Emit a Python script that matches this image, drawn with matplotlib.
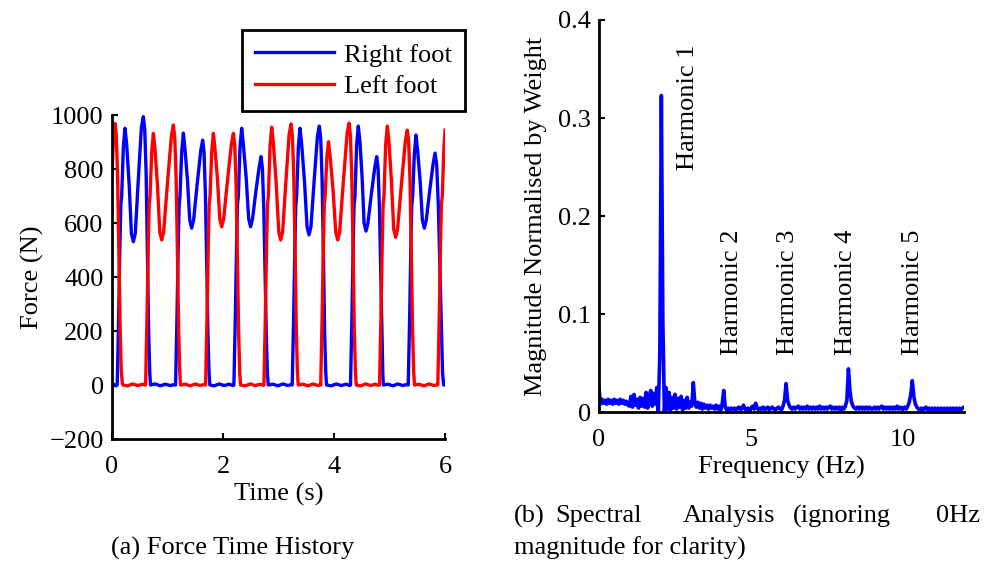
import matplotlib
matplotlib.use("Agg")
import matplotlib.pyplot as plt
from matplotlib.ticker import FormatStrFormatter
import numpy as np

plt.rcParams['font.family'] = ['Liberation Serif', 'DejaVu Serif']
plt.rcParams['font.size'] = 19

# ---- force time history ----
right_t = [0.00, 0.03, 0.06,
           0.094, 0.119, 0.144, 0.159, 0.174, 0.204, 0.234, 0.264, 0.309, 0.349, 0.384, 0.419, 0.474, 0.529, 0.564, 0.589, 0.614, 0.639, 0.659, 0.679, 0.694,
           0.78, 0.87, 0.96, 1.05, 1.12,
           1.145, 1.17, 1.195, 1.21, 1.225, 1.255, 1.285, 1.315, 1.36, 1.40, 1.435, 1.47, 1.534, 1.598, 1.633, 1.658, 1.683, 1.708, 1.728, 1.748, 1.763,
           1.84, 1.93, 2.02, 2.11, 2.18,
           2.196, 2.221, 2.246, 2.261, 2.276, 2.306, 2.336, 2.366, 2.417, 2.462, 2.497, 2.532, 2.591, 2.65, 2.685, 2.71, 2.735, 2.76, 2.78, 2.80, 2.815,
           2.90, 2.99, 3.08, 3.17, 3.23,
           3.247, 3.272, 3.297, 3.312, 3.327, 3.357, 3.387, 3.417, 3.468, 3.514, 3.549, 3.584, 3.642, 3.70, 3.735, 3.76, 3.785, 3.81, 3.83, 3.85, 3.865,
           3.95, 4.04, 4.13, 4.22, 4.28,
           4.297, 4.322, 4.347, 4.362, 4.377, 4.407, 4.437, 4.467, 4.507, 4.541, 4.576, 4.611, 4.673, 4.734, 4.769, 4.794, 4.819, 4.844, 4.864, 4.879, 4.889,
           4.97, 5.06, 5.15, 5.24, 5.31,
           5.337, 5.362, 5.387, 5.402, 5.417, 5.447, 5.477, 5.507, 5.552, 5.592, 5.627, 5.662, 5.724, 5.785, 5.82, 5.85, 5.88, 5.91, 5.935, 5.955, 5.975, 6.0]
right_f = [0, 3, -3,
           0, 250, 540, 670, 700, 881, 951, 891, 741, 561, 531, 561, 762, 954, 994, 949, 790, 480, 210, 50, 0,
           4, -3, 3, -2, 2,
           0, 250, 540, 670, 700, 863, 933, 873, 757, 611, 581, 611, 744, 867, 907, 862, 700, 430, 190, 45, 0,
           -3, 4, -2, 3, -2,
           0, 250, 540, 670, 700, 881, 951, 891, 768, 616, 586, 616, 716, 806, 846, 801, 650, 400, 180, 40, 0,
           3, -3, 4, -2, 2,
           0, 250, 540, 670, 700, 881, 951, 891, 753, 586, 556, 586, 757, 919, 959, 914, 760, 470, 200, 50, 0,
           -3, 4, -2, 3, -2,
           0, 250, 540, 670, 700, 889, 959, 899, 765, 600, 570, 600, 708, 806, 846, 801, 650, 400, 180, 40, 0,
           3, -3, 4, -2, 2,
           0, 250, 540, 670, 700, 856, 926, 866, 754, 611, 581, 611, 720, 819, 859, 814, 660, 410, 190, 45, 0, 0]

left_t = [0.0, 0.02, 0.04, 0.054, 0.075, 0.10, 0.125, 0.145, 0.165, 0.185, 0.20,
          0.28, 0.37, 0.46, 0.55,
          0.605, 0.63, 0.655, 0.67, 0.685, 0.715, 0.745, 0.775, 0.82, 0.86, 0.895, 0.93, 1.0, 1.07, 1.105, 1.13, 1.155, 1.18, 1.20, 1.22, 1.235,
          1.32, 1.41, 1.50, 1.59, 1.65,
          1.686, 1.711, 1.736, 1.751, 1.766, 1.796, 1.826, 1.856, 1.901, 1.941, 1.976, 2.011, 2.081, 2.151, 2.186, 2.211, 2.236, 2.261, 2.281, 2.301, 2.316,
          2.40, 2.49, 2.58, 2.67, 2.72,
          2.737, 2.762, 2.787, 2.802, 2.817, 2.847, 2.877, 2.907, 2.958, 3.004, 3.039, 3.074, 3.132, 3.19, 3.225, 3.25, 3.275, 3.30, 3.32, 3.34, 3.355,
          3.44, 3.53, 3.62, 3.71, 3.75,
          3.76, 3.785, 3.81, 3.825, 3.84, 3.87, 3.90, 3.93, 3.983, 4.031, 4.066, 4.101, 4.168, 4.235, 4.27, 4.295, 4.32, 4.345, 4.365, 4.385, 4.40,
          4.48, 4.57, 4.66, 4.74, 4.79,
          4.82, 4.845, 4.87, 4.885, 4.90, 4.93, 4.96, 4.99, 5.035, 5.075, 5.11, 5.145, 5.215, 5.285, 5.32, 5.345, 5.37, 5.395, 5.415, 5.435, 5.45,
          5.53, 5.62, 5.71, 5.80, 5.85,
          5.87, 5.895, 5.92, 5.935, 5.95, 5.98, 6.0]
left_f = [775, 890, 950, 969, 930, 780, 480, 220, 60, 5, 0,
          -3, 4, -2, 3,
          0, 250, 540, 670, 700, 862, 932, 872, 735, 567, 537, 567, 750, 923, 963, 918, 765, 470, 210, 50, 0,
          3, -3, 4, -2, 2,
          0, 250, 540, 670, 700, 862, 932, 872, 759, 616, 586, 616, 759, 892, 932, 887, 740, 450, 200, 45, 0,
          -3, 4, -2, 3, -1,
          0, 250, 540, 670, 700, 885, 955, 895, 746, 567, 537, 567, 752, 927, 967, 922, 770, 475, 210, 50, 0,
          3, -3, 4, -2, 1,
          0, 250, 540, 670, 700, 841, 901, 846, 719, 567, 537, 567, 754, 930, 970, 925, 770, 475, 210, 50, 0,
          -3, 4, -2, 3, -1,
          0, 250, 540, 670, 700, 889, 959, 899, 753, 577, 547, 577, 746, 904, 944, 899, 750, 460, 205, 48, 0,
          3, -3, 4, -2, 1,
          0, 250, 540, 670, 700, 880, 944]

# ---- spectrum, magnitudes on a 0.05 Hz grid from 0 to 12 Hz ----
freq = np.linspace(0, 12, 241)
mag = [
    0.024, 0.008, 0.013, 0.009, 0.012, 0.008, 0.013, 0.009, 0.012, 0.008, 0.013, 0.009, 0.012, 0.008, 0.013, 0.009, 0.012, 0.008, 0.011, 0.007,
    0.006, 0.016, 0.005, 0.018, 0.007, 0.013, 0.004, 0.015, 0.006, 0.014, 0.005, 0.020, 0.004, 0.016, 0.022, 0.006, 0.019, 0.008, 0.025, 0.001,
    0.060, 0.323, 0.090, 0.000, 0.025, 0.003, 0.020, 0.002, 0.015, 0.004, 0.018, 0.003, 0.014, 0.005, 0.016, 0.002, 0.012, 0.004, 0.015, 0.004,
    0.010, 0.006, 0.030, 0.010, 0.005, 0.010, 0.004, 0.009, 0.003, 0.008, 0.004, 0.007, 0.003, 0.007, 0.004, 0.006, 0.003, 0.007, 0.003, 0.006,
    0.002, 0.008, 0.022, 0.005, 0.002, 0.004, 0.002, 0.004, 0.003, 0.004, 0.002, 0.004, 0.005, 0.002, 0.004, 0.007, 0.003, 0.002, 0.004, 0.002,
    0.004, 0.006, 0.003, 0.009, 0.004, 0.002, 0.004, 0.003, 0.005, 0.002, 0.004, 0.005, 0.002, 0.004, 0.005, 0.003, 0.002, 0.004, 0.005, 0.003,
    0.002, 0.006, 0.012, 0.029, 0.012, 0.007, 0.004, 0.003, 0.005, 0.003, 0.005, 0.006, 0.003, 0.005, 0.003, 0.005, 0.003, 0.006, 0.003, 0.005,
    0.003, 0.005, 0.003, 0.005, 0.003, 0.006, 0.003, 0.005, 0.003, 0.005, 0.003, 0.005, 0.006, 0.003, 0.005, 0.003, 0.005, 0.003, 0.005, 0.002,
    0.005, 0.003, 0.006, 0.012, 0.044, 0.022, 0.010, 0.006, 0.004, 0.003, 0.005, 0.003, 0.005, 0.003, 0.005, 0.003, 0.005, 0.003, 0.005, 0.003,
    0.003, 0.005, 0.003, 0.005, 0.003, 0.005, 0.006, 0.003, 0.005, 0.003, 0.005, 0.003, 0.005, 0.003, 0.005, 0.003, 0.006, 0.003, 0.005, 0.003,
    0.003, 0.005, 0.003, 0.006, 0.010, 0.018, 0.032, 0.016, 0.008, 0.005, 0.003, 0.002, 0.004, 0.002, 0.004, 0.005, 0.002, 0.004, 0.002, 0.004,
    0.002, 0.004, 0.002, 0.004, 0.002, 0.004, 0.002, 0.004, 0.002, 0.004, 0.002, 0.004, 0.002, 0.004, 0.002, 0.004, 0.002, 0.004, 0.002, 0.004,
    0.005]

harm_labels = ['Harmonic 1', 'Harmonic 2', 'Harmonic 3', 'Harmonic 4', 'Harmonic 5']
harm_x = [2.93, 4.37, 6.22, 8.12, 10.33]
harm_y = [0.247, 0.058, 0.058, 0.058, 0.058]

fig = plt.figure(figsize=(9.87, 5.68), dpi=100)

ax1 = fig.add_axes([0.1135, 0.2271, 0.3374, 0.5704])
ax1.plot(right_t, right_f, color='blue', lw=2.4, label='Right foot')
ax1.plot(left_t, left_f, color='red', lw=2.4, label='Left foot')
ax1.set_xlim(0, 6)
ax1.set_ylim(-200, 1000)
ax1.set_xticks([0, 2, 4, 6])
ax1.set_yticks(range(-200, 1001, 200))
ax1.set_xlabel('Time (s)', labelpad=4)
ax1.set_ylabel('Force (N)', labelpad=4)
ax1.legend(loc='upper left', bbox_to_anchor=(0.2452, 0.9472), bbox_transform=fig.transFigure,
           borderaxespad=0, fancybox=False, edgecolor='black', framealpha=1,
           handlelength=3.0, handletextpad=0.35, borderpad=0.5, labelspacing=0.3)
ax1.get_legend().get_frame().set_linewidth(2)

ax2 = fig.add_axes([0.6069, 0.2746, 0.3698, 0.6902])
ax2.plot(freq, mag, color='blue', lw=2.6)
ax2.set_xlim(0, 12)
ax2.set_ylim(0, 0.4)
ax2.set_xticks([0, 5, 10])
ax2.set_yticks([0, 0.1, 0.2, 0.3, 0.4])
ax2.yaxis.set_major_formatter(FormatStrFormatter('%g'))
ax2.set_xlabel('Frequency (Hz)', labelpad=4)
ax2.set_ylabel('Magnitude Normalised by Weight', labelpad=8)
for lab, x, y in zip(harm_labels, harm_x, harm_y):
    ax2.text(x, y, lab, rotation=90, ha='center', va='bottom')

for ax in (ax1, ax2):
    ax.spines['top'].set_visible(False)
    ax.spines['right'].set_visible(False)
    ax.spines['left'].set_linewidth(2)
    ax.spines['bottom'].set_linewidth(2)
    ax.tick_params(direction='in', length=4, width=1.5, pad=6)
    ax.tick_params(axis='x', pad=12)

fig.text(233 / 987, 1 - 548 / 568, '(a) Force Time History', ha='center', va='center')
fig.text(514 / 987, 1 - 516 / 568, '(b)', ha='left', va='center')
fig.text(555 / 987, 1 - 516 / 568, 'Spectral', ha='left', va='center')
fig.text(683 / 987, 1 - 516 / 568, 'Analysis', ha='left', va='center')
fig.text(793 / 987, 1 - 516 / 568, '(ignoring', ha='left', va='center')
fig.text(980 / 987, 1 - 516 / 568, '0Hz', ha='right', va='center')
fig.text(514 / 987, 1 - 548 / 568, 'magnitude for clarity)', ha='left', va='center')

fig.savefig('out.png', dpi=100)
